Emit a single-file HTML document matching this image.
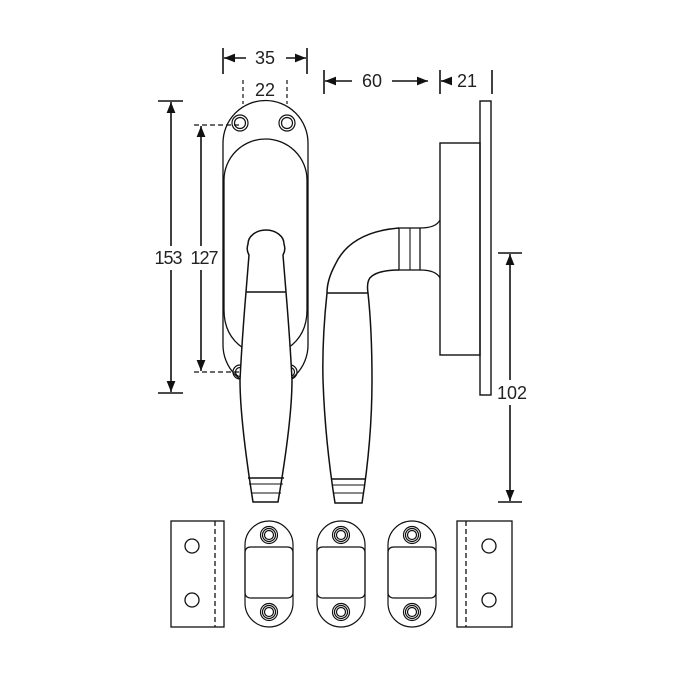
<!DOCTYPE html>
<html><head><style>
html,body{margin:0;padding:0;background:#fff;}
svg{display:block;}
text{font-family:"Liberation Sans",sans-serif;font-size:18px;fill:#222;}
</style></head><body>
<svg width="700" height="700" viewBox="0 0 700 700" xmlns="http://www.w3.org/2000/svg">
<defs>
<marker id="a" viewBox="0 0 10 10" refX="10" refY="5" markerWidth="7" markerHeight="7" orient="auto-start-reverse"><path d="M0,1 L10,5 L0,9 z" fill="#111"/></marker>
</defs>
<g fill="none" stroke="#111" stroke-width="1.6">
<line x1="223" y1="48" x2="223" y2="74"/>
<line x1="307" y1="48" x2="307" y2="74"/>
<line x1="224" y1="58" x2="246" y2="58" marker-end="url(#a)" transform="rotate(180 235 58)"/>
<line x1="286" y1="58" x2="306" y2="58" marker-end="url(#a)"/>
<line x1="243" y1="80" x2="243" y2="104" stroke-dasharray="4,3" stroke-width="1.2"/>
<line x1="287" y1="80" x2="287" y2="104" stroke-dasharray="4,3" stroke-width="1.2"/>
<line x1="324" y1="70" x2="324" y2="94"/>
<line x1="440" y1="70" x2="440" y2="94"/>
<line x1="492" y1="70" x2="492" y2="94"/>
<line x1="325" y1="81" x2="352" y2="81" marker-start="url(#a)"/>
<line x1="392" y1="81" x2="428" y2="81" marker-end="url(#a)"/>
<line x1="441" y1="81" x2="452" y2="81" marker-start="url(#a)"/>
<line x1="158" y1="101" x2="183" y2="101"/>
<line x1="158" y1="393" x2="183" y2="393"/>
<line x1="171" y1="102" x2="171" y2="246" marker-start="url(#a)"/>
<line x1="171" y1="270" x2="171" y2="392" marker-end="url(#a)"/>
<line x1="194" y1="125" x2="240" y2="125" stroke-dasharray="5,3" stroke-width="1.2"/>
<line x1="194" y1="372" x2="240" y2="372" stroke-dasharray="5,3" stroke-width="1.2"/>
<line x1="201" y1="126" x2="201" y2="246" marker-start="url(#a)"/>
<line x1="201" y1="270" x2="201" y2="371" marker-end="url(#a)"/>
<line x1="498" y1="253" x2="522" y2="253"/>
<line x1="498" y1="502" x2="522" y2="502"/>
<line x1="510" y1="254" x2="510" y2="380" marker-start="url(#a)"/>
<line x1="510" y1="405" x2="510" y2="501" marker-end="url(#a)"/>

<path d="M223,143 A42.5,42.5 0 0 1 308,143 L308,345 A42.5,42.5 0 0 1 223,345 Z" stroke-width="1.3"/>
<path d="M224,180 A41.5,41 0 0 1 307,180 L307,310 Q307,335 288,348" stroke-width="1.3"/>
<path d="M224,310 Q224,335 243,348" stroke-width="1.3"/>
<line x1="224" y1="180" x2="224" y2="310" stroke-width="1.3"/>
<g stroke-width="1.2">
<circle cx="240" cy="123" r="8"/><circle cx="240" cy="123" r="5.5"/>
<circle cx="287" cy="123" r="8"/><circle cx="287" cy="123" r="5.5"/>
<circle cx="240" cy="372" r="7"/><circle cx="240" cy="372" r="4.5"/>
<circle cx="290" cy="372" r="7"/><circle cx="290" cy="372" r="4.5"/>
</g>
<path d="M249,255 Q246,250 248,244 A18,14 0 0 1 284,244 Q286,250 283,255 L286,292 Q290,340 292,380 Q292,420 278,502 L253,502 Q240,420 240,380 Q242,340 246,292 Z" fill="#fff" stroke-width="1.5"/>
<line x1="246" y1="292" x2="286" y2="292"/>
<line x1="248" y1="478" x2="284" y2="478"/>
<line x1="249" y1="484" x2="283" y2="484" stroke-width="1.1"/>
<line x1="251" y1="493" x2="281" y2="493" stroke-width="1.1"/>

<rect x="480" y="101" width="11" height="294" stroke-width="1.4"/>
<rect x="440" y="143" width="40" height="212" stroke-width="1.4"/>
<path d="M420,228 Q436,228 440,220" stroke-width="1.3"/>
<path d="M420,270 Q436,270 440,278" stroke-width="1.3"/>
<rect x="399" y="228" width="21" height="42" stroke-width="1.3"/>
<line x1="410" y1="228" x2="410" y2="270" stroke-width="1.1"/>
<path d="M399,228 Q350,232 335,265 Q327,280 327,293 Q322,340 323,380 Q325,440 335,503 L362,503 Q372,440 372,380 Q372,330 368,293 Q366,280 372,276 Q380,270 399,270" stroke-width="1.5"/>
<line x1="327" y1="293" x2="368" y2="293"/>
<line x1="331" y1="479" x2="366" y2="479"/>
<line x1="332" y1="485" x2="365" y2="485" stroke-width="1.1"/>
<line x1="334" y1="493" x2="363" y2="493" stroke-width="1.1"/>

<g stroke-width="1.3">
<rect x="171" y="521" width="53" height="106"/>
<line x1="215" y1="521" x2="215" y2="627" stroke-dasharray="5,3"/>
<circle cx="192" cy="546" r="7"/><circle cx="192" cy="600" r="7"/>
<rect x="457" y="521" width="55" height="106"/>
<line x1="466" y1="521" x2="466" y2="627" stroke-dasharray="5,3"/>
<circle cx="489" cy="546" r="7"/><circle cx="489" cy="600" r="7"/>
</g>
<g stroke-width="1.2">
<g id="st">
<rect x="245" y="521" width="48" height="106" rx="24" ry="24"/>
<path d="M245,553 Q245,547 251,547 L287,547 Q293,547 293,553 L293,592 Q293,598 287,598 L251,598 Q245,598 245,592 Z"/>
<circle cx="269" cy="535" r="8.5"/><circle cx="269" cy="535" r="6.5"/><circle cx="269" cy="535" r="4.5"/>
<circle cx="269" cy="612" r="8.5"/><circle cx="269" cy="612" r="6.5"/><circle cx="269" cy="612" r="4.5"/>
</g>
<use href="#st" x="72"/>
<use href="#st" x="143"/>
</g>
</g>
<text x="265" y="64" text-anchor="middle">35</text>
<text x="265" y="96" text-anchor="middle">22</text>
<text x="372" y="87" text-anchor="middle">60</text>
<text x="467" y="87" text-anchor="middle">21</text>
<text x="168" y="264" text-anchor="middle" letter-spacing="-1">153</text>
<text x="204" y="264" text-anchor="middle" letter-spacing="-1">127</text>
<text x="512" y="399" text-anchor="middle">102</text>
</svg>
</body></html>
